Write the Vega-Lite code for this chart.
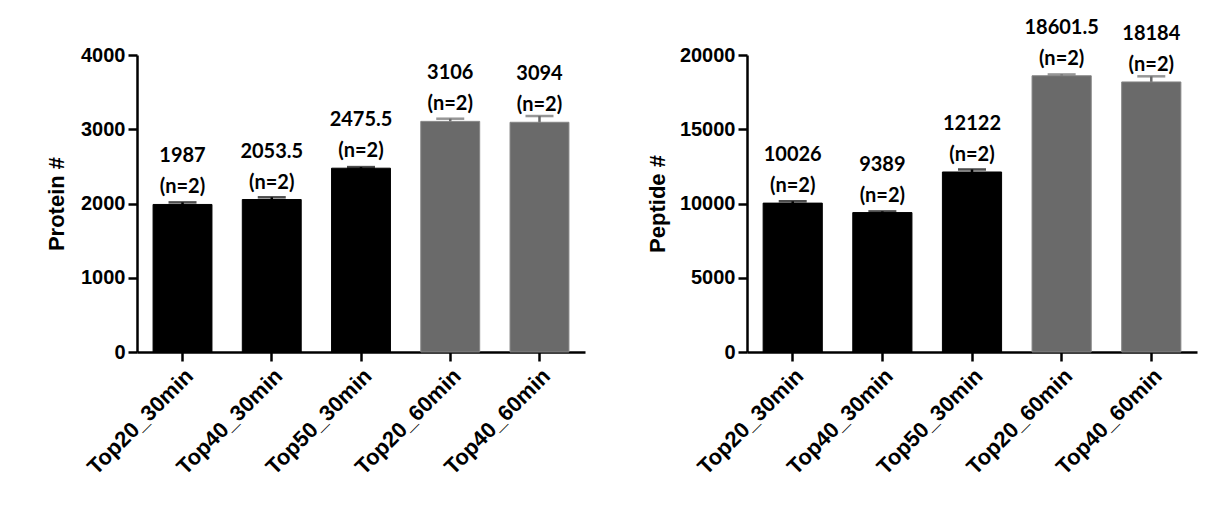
{
  "$schema": "https://vega.github.io/schema/vega-lite/v6.json",
  "background": "#FFFFFF",
  "padding": {"left": 45, "top": 17, "right": 5, "bottom": 5},
  "bounds": "flush",
  "spacing": 162,
  "datasets": {
    "protein": [
      {"sample": "Top20_30min", "value": 1987, "sd": 28, "grp": "30min", "label": ["1987", "(n=2)"]},
      {"sample": "Top40_30min", "value": 2053.5, "sd": 30, "grp": "30min", "label": ["2053.5", "(n=2)"]},
      {"sample": "Top50_30min", "value": 2475.5, "sd": 15, "grp": "30min", "label": ["2475.5", "(n=2)"]},
      {"sample": "Top20_60min", "value": 3106, "sd": 36, "grp": "60min", "label": ["3106", "(n=2)"]},
      {"sample": "Top40_60min", "value": 3094, "sd": 84, "grp": "60min", "label": ["3094", "(n=2)"]}
    ],
    "peptide": [
      {"sample": "Top20_30min", "value": 10026, "sd": 120, "grp": "30min", "label": ["10026", "(n=2)"]},
      {"sample": "Top40_30min", "value": 9389, "sd": 80, "grp": "30min", "label": ["9389", "(n=2)"]},
      {"sample": "Top50_30min", "value": 12122, "sd": 170, "grp": "30min", "label": ["12122", "(n=2)"]},
      {"sample": "Top20_60min", "value": 18601.5, "sd": 90, "grp": "60min", "label": ["18601.5", "(n=2)"]},
      {"sample": "Top40_60min", "value": 18184, "sd": 380, "grp": "60min", "label": ["18184", "(n=2)"]}
    ]
  },
  "config": {
    "view": {"stroke": null},
    "axis": {
      "labelFont": "Liberation Sans",
      "labelFontWeight": "bold",
      "labelFontSize": 20,
      "labelColor": "#000000",
      "titleFont": "Liberation Sans",
      "titleFontWeight": "bold",
      "titleFontSize": 22,
      "titleColor": "#000000",
      "domainColor": "#000000",
      "domainWidth": 2.5,
      "tickColor": "#000000",
      "tickWidth": 2.5,
      "tickSize": 9,
      "labelPadding": 3,
      "grid": false
    },
    "text": {"font": "Lato", "fontWeight": "bold", "fontSize": 20, "lineHeight": 31}
  },
  "hconcat": [
    {
      "width": 448,
      "height": 297,
      "data": {"name": "protein"},
      "encoding": {
        "x": {
          "field": "sample",
          "type": "nominal",
          "sort": null,
          "title": null,
          "scale": {"paddingInner": 0.34, "paddingOuter": 0.18},
          "axis": {"labelAngle": -45, "labelPadding": 4, "labelFontSize": 22}
        },
        "y": {
          "field": "value",
          "type": "quantitative",
          "title": "Protein #",
          "scale": {"domain": [0, 4000], "nice": false},
          "axis": {"values": [0, 1000, 2000, 3000, 4000], "format": "d", "titlePadding": 12}
        }
      },
      "layer": [
        {
          "mark": {"type": "errorbar", "ticks": {"size": 28}, "thickness": 2.5},
          "encoding": {
            "yError": {"field": "sd"},
            "color": {"field": "grp", "type": "nominal", "scale": {"domain": ["30min", "60min"], "range": ["#000000", "#6a6a6a"]}, "legend": null}
          }
        },
        {
          "mark": {"type": "bar", "strokeWidth": 1},
          "encoding": {
            "color": {"field": "grp", "type": "nominal", "scale": {"domain": ["30min", "60min"], "range": ["#000000", "#606060"]}, "legend": null},
            "stroke": {"field": "grp", "type": "nominal", "scale": {"domain": ["30min", "60min"], "range": ["#000000", "#858585"]}, "legend": null}
          }
        },
        {
          "mark": {"type": "text", "baseline": "bottom", "dy": -38, "color": "#000000"},
          "encoding": {"text": {"field": "label"}}
        }
      ]
    },
    {
      "width": 450,
      "height": 297,
      "data": {"name": "peptide"},
      "encoding": {
        "x": {
          "field": "sample",
          "type": "nominal",
          "sort": null,
          "title": null,
          "scale": {"paddingInner": 0.34, "paddingOuter": 0.18},
          "axis": {"labelAngle": -45, "labelPadding": 4, "labelFontSize": 22}
        },
        "y": {
          "field": "value",
          "type": "quantitative",
          "title": "Peptide #",
          "scale": {"domain": [0, 20000], "nice": false},
          "axis": {"values": [0, 5000, 10000, 15000, 20000], "format": "d", "titlePadding": 10}
        }
      },
      "layer": [
        {
          "mark": {"type": "errorbar", "ticks": {"size": 28}, "thickness": 2.5},
          "encoding": {
            "yError": {"field": "sd"},
            "color": {"field": "grp", "type": "nominal", "scale": {"domain": ["30min", "60min"], "range": ["#000000", "#6a6a6a"]}, "legend": null}
          }
        },
        {
          "mark": {"type": "bar", "strokeWidth": 1},
          "encoding": {
            "color": {"field": "grp", "type": "nominal", "scale": {"domain": ["30min", "60min"], "range": ["#000000", "#606060"]}, "legend": null},
            "stroke": {"field": "grp", "type": "nominal", "scale": {"domain": ["30min", "60min"], "range": ["#000000", "#858585"]}, "legend": null}
          }
        },
        {
          "mark": {"type": "text", "baseline": "bottom", "dy": -38, "color": "#000000"},
          "encoding": {"text": {"field": "label"}}
        }
      ]
    }
  ]
}
